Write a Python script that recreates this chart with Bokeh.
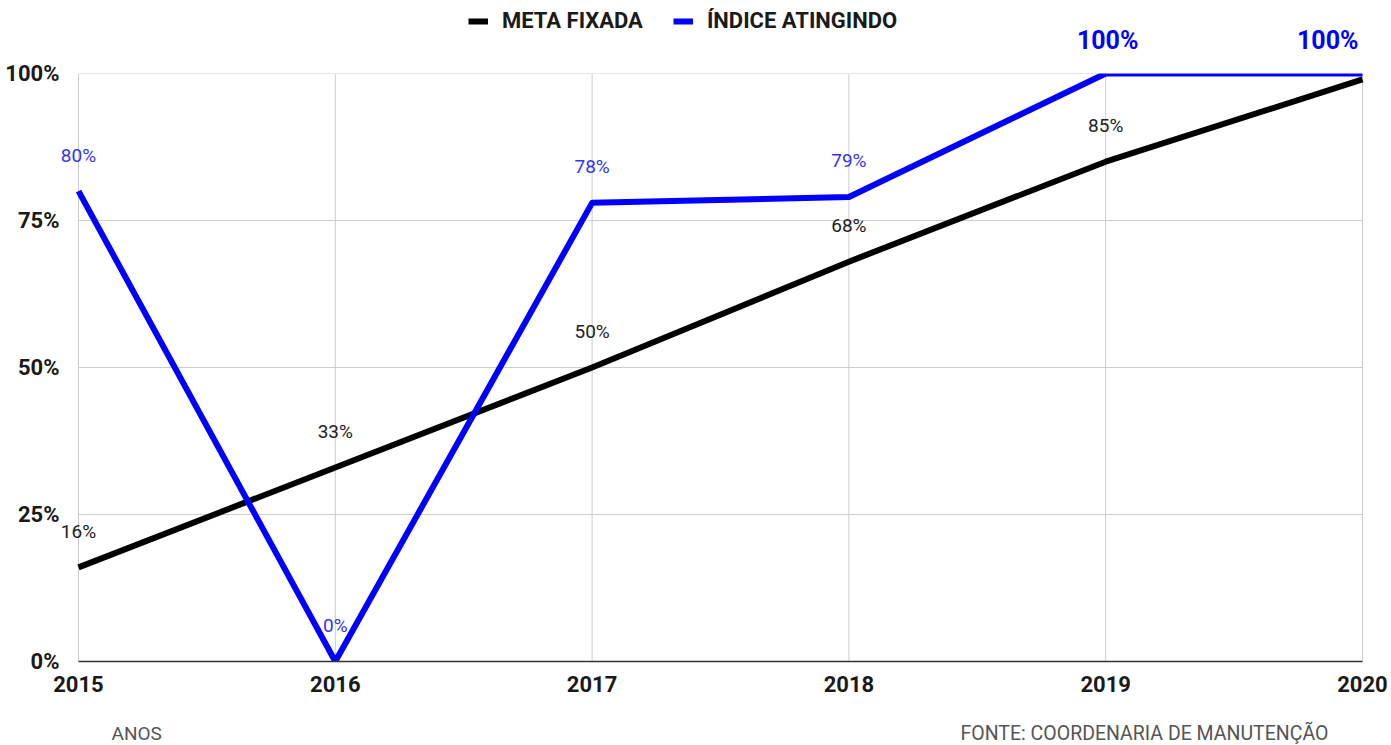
from bokeh.plotting import figure
from bokeh.models import (ColumnDataSource, LabelSet, Label, Legend, LegendItem,
                          FixedTicker, PrintfTickFormatter, Range1d, LinearAxis)
from bokeh.core.properties import value
from bokeh.embed import file_html
from bokeh.resources import INLINE

# ---- data ----
years = [2015, 2016, 2017, 2018, 2019, 2020]
meta_fixada = [16, 33, 50, 68, 85, 99]
indice_atingido = [80, 0, 78, 79, 100, 100]
y_ticks = [0, 25, 50, 75, 100]
series_names = ["META FIXADA", "ÍNDICE ATINGINDO"]
x_title = "ANOS"
source_note = "FONTE: COORDENARIA DE MANUTENÇÃO"

FONT = "Roboto"
W, H = 1391, 745
# pixel layout of the plotting area inside the canvas
L, R, T, B = 78, 1362, 73, 661
px_per_x = (R - L) / (years[-1] - years[0])
px_per_y = (B - T) / (y_ticks[-1] - y_ticks[0])
x_rng = Range1d(years[0] - L / px_per_x, years[-1] + (W - R) / px_per_x)
y_rng = Range1d(y_ticks[0] - (H - B) / px_per_y, y_ticks[-1] + T / px_per_y)

p = figure(width=W, height=H, output_backend="svg", toolbar_location=None,
           x_range=x_rng, y_range=y_rng, x_axis_type=None, y_axis_type=None,
           min_border=0, min_border_left=0, min_border_right=0,
           min_border_top=0, min_border_bottom=0)
p.outline_line_color = None
p.background_fill_color = "white"
p.xgrid.visible = False
p.ygrid.visible = False

# grid lines limited to the data area
vg = ColumnDataSource(dict(x=years, y0=[y_ticks[0]] * len(years), y1=[y_ticks[-1]] * len(years)))
p.segment(x0="x", y0="y0", x1="x", y1="y1", source=vg, line_color="#cccccc", line_width=1)
hg = ColumnDataSource(dict(y=y_ticks[1:], x0=[years[0]] * (len(y_ticks) - 1),
                           x1=[years[-1]] * (len(y_ticks) - 1)))
p.segment(x0="x0", y0="y", x1="x1", y1="y", source=hg, line_color="#cccccc", line_width=1)

src = ColumnDataSource(dict(x=years, meta=meta_fixada, ind=indice_atingido))
r_meta = p.line("x", "meta", source=src, line_color="black", line_width=6, line_join="round")
r_ind = p.line("x", "ind", source=src, line_color="#0000ff", line_width=6, line_join="round")

# white masks outside the data area (lines are clipped at 0% and 100%, as in the original)
p.quad(left=[x_rng.start, x_rng.start], right=[x_rng.end, x_rng.end],
       bottom=[y_ticks[-1], y_rng.start], top=[y_rng.end, y_ticks[0]],
       fill_color="white", line_color=None)

# axes fixed at the data origin
xaxis = LinearAxis(fixed_location=y_ticks[0], ticker=FixedTicker(ticks=years),
                   bounds=(years[0], years[-1]))
yaxis = LinearAxis(fixed_location=years[0], ticker=FixedTicker(ticks=y_ticks),
                   formatter=PrintfTickFormatter(format="%d%%"))
for ax in (xaxis, yaxis):
    ax.major_tick_line_color = None
    ax.minor_tick_line_color = None
    ax.major_label_text_font = FONT
    ax.major_label_text_font_style = "bold"
    ax.major_label_text_font_size = "22px"
    ax.major_label_text_color = "#1a1a1a"
yaxis.axis_line_color = None
xaxis.axis_line_color = "#333333"
xaxis.axis_line_width = 1.5
xaxis.major_label_standoff = 8
yaxis.major_label_standoff = 13
p.add_layout(xaxis, "below")
p.add_layout(yaxis, "left")

# data labels
meta_lab = ColumnDataSource(dict(x=years[:5], y=meta_fixada[:5],
                                 t=[f"{v}%" for v in meta_fixada[:5]]))
p.add_layout(LabelSet(x="x", y="y", text="t", source=meta_lab, y_offset=36,
                      text_align="center", text_baseline="middle",
                      text_font=value(FONT), text_font_size="19px", text_color="#222222"))

small_idx = [i for i, v in enumerate(indice_atingido) if v < 100]
ind_lab = ColumnDataSource(dict(x=[years[i] for i in small_idx],
                                y=[indice_atingido[i] for i in small_idx],
                                t=[f"{indice_atingido[i]}%" for i in small_idx]))
p.add_layout(LabelSet(x="x", y="y", text="t", source=ind_lab, y_offset=36,
                      text_align="center", text_baseline="middle",
                      text_font=value(FONT), text_font_size="19px", text_color="#3535f0"))

big_idx = [i for i, v in enumerate(indice_atingido) if v >= 100]
big_mid = [i for i in big_idx if i < len(years) - 1]
big_end = [i for i in big_idx if i == len(years) - 1]
for idxs, align in ((big_mid, "center"), (big_end, "right")):
    s = ColumnDataSource(dict(x=[years[i] for i in idxs], y=[indice_atingido[i] for i in idxs],
                              t=[f"{indice_atingido[i]}%" for i in idxs]))
    p.add_layout(LabelSet(x="x", y="y", text="t", source=s, y_offset=33,
                          x_offset=(2 if align == "center" else -4),
                          text_align=align, text_baseline="middle",
                          text_font=value(FONT), text_font_size="25px", text_font_style="bold",
                          text_color="#0000ff"))

# legend at the top
legend = Legend(items=[LegendItem(label=series_names[0], renderers=[r_meta]),
                       LegendItem(label=series_names[1], renderers=[r_ind])],
                orientation="horizontal", location=(468, H - 33),
                label_text_font=FONT, label_text_font_style="bold",
                label_text_font_size="22px", label_text_color="#1a1a1a",
                glyph_width=20, glyph_height=22, label_height=22, label_standoff=14,
                spacing=30, padding=0, margin=0, border_line_color=None,
                background_fill_alpha=0)
p.add_layout(legend)

# bottom notes
note_y = y_ticks[0] - 72 / px_per_y
p.add_layout(Label(x=years[0] + 33 / px_per_x, y=note_y, text=x_title, text_baseline="middle",
                   text_font=FONT, text_font_size="19px", text_color="#555555"))
p.add_layout(Label(x=years[0] + 882 / px_per_x, y=note_y, text=source_note, text_baseline="middle",
                   text_font=FONT, text_font_size="19.5px", text_color="#555555"))

open("out.html", "w").write(file_html(p, INLINE))
